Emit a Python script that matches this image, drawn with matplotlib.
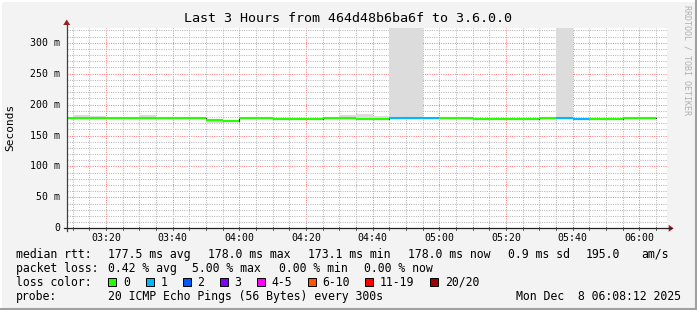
import matplotlib
matplotlib.use("Agg")
import matplotlib.pyplot as plt
from matplotlib.patches import Rectangle, Polygon

W, H, DPI = 697, 310, 100
MONO = "DejaVu Sans Mono"

title = "Last 3 Hours from 464d48b6ba6f to 3.6.0.0"
slot_start = "03:05"
slot_minutes = 5
view_start = "03:08:12"
view_hours = 3

median_ms = [178.0, 178.0, 178.0, 178.0, 178.0, 178.0, 178.0, 178.0, 178.0, 175.5,
             173.1, 178.0, 178.0, 176.5, 176.5, 176.5, 178.0, 178.0, 176.5, 176.5,
             178.0, 178.0, 178.0, 178.0, 178.0, 176.5, 176.5, 176.5, 176.5, 178.0,
             178.0, 176.5, 176.5, 176.5, 178.0, 178.0]
loss = [0] * 20 + [1, 1, 1] + [0] * 7 + [1, 1] + [0] * 4
smoke_lo = [177, 176, 176, 177, 177, 176, 177, 177, 177, 171,
            172, 177, 177, 175.5, 175.5, 175.5, 177, 176, 175.5, 175.5,
            177, 177, 177, 177, 177, 175.5, 175.5, 175.5, 175.5, 177,
            177, 175.5, 175.5, 175.5, 177, 177]
smoke_hi = [179, 183, 181, 179, 179, 183, 179, 179, 179, 176.5,
            174, 179, 179, 177.5, 177.5, 177.5, 179, 183, 185, 181,
            400, 400, 179, 179, 179, 177.5, 177.5, 177.5, 177.5, 179,
            400, 177.5, 177.5, 177.5, 179, 179]

y_ticks = [0, 50, 100, 150, 200, 250, 300]
y_labels = ["0", "50 m", "100 m", "150 m", "200 m", "250 m", "300 m"]
x_labels = ["03:20", "03:40", "04:00", "04:20", "04:40", "05:00", "05:20", "05:40", "06:00"]

loss_keys = ["0", "1", "2", "3", "4-5", "6-10", "11-19", "20/20"]
loss_colors = ["#26ff00", "#00b8ff", "#0059ff", "#7e00ff", "#ff00ff", "#ff5500", "#ff0000", "#a10000"]

row_median = [("median rtt:", 16), ("177.5 ms avg", 107.5), ("178.0 ms max", 207.5),
              ("173.1 ms min", 307.5), ("178.0 ms now", 407.5), ("0.9 ms sd", 507.5),
              ("195.0", 586), ("am/s", 641)]
row_loss = [("packet loss:", 16), ("0.42 % avg", 107.5), ("5.00 % max", 192.5),
            ("0.00 % min", 279.3), ("0.00 % now", 364.4)]
probe_text = "20 ICMP Echo Pings (56 Bytes) every 300s"
date_text = "Mon Dec  8 06:08:12 2025"


def minutes(s):
    parts = [int(p) for p in s.split(":")]
    while len(parts) < 3:
        parts.append(0)
    return parts[0] * 60 + parts[1] + parts[2] / 60.0


fig = plt.figure(figsize=(W / DPI, H / DPI), dpi=DPI)
fig.patch.set_facecolor("#f3f3f3")

# plot area in pixels
L, R, T, B = 66.7, 666.7, 28.3, 228.3
ax = fig.add_axes([L / W, 1 - B / H, (R - L) / W, (B - T) / H])
ax.set_facecolor("white")
x0 = minutes(view_start)
x1 = x0 + view_hours * 60
ax.set_xlim(x0, x1)
ax.set_ylim(0, 50 * (B - T) / 30.93)
for s in ax.spines.values():
    s.set_visible(False)
ax.set_xticks([])
ax.set_yticks([])

dot = (0, (1, 1.2))
# grid
t = minutes(slot_start)
while t <= x1:
    if t >= x0:
        is_major = (int(round(t)) % 20 == 0)
        ax.axvline(t, color="#ff8080" if is_major else "#b8b8b8", lw=0.75, ls=dot, zorder=0.5)
    t += slot_minutes
for v in range(10, 330, 10):
    is_major = v % 50 == 0
    ax.axhline(v, color="#ff8080" if is_major else "#b8b8b8", lw=0.75, ls=dot, zorder=0.5)

# smoke
starts = [minutes(slot_start) + i * slot_minutes for i in range(len(median_ms))]
ax.bar(starts, [h - l for h, l in zip(smoke_hi, smoke_lo)], bottom=smoke_lo,
       width=slot_minutes, align="edge", color="#dcdcdc", lw=0, zorder=1)

# dark step line beneath median
xs, ys = [], []
for s0, m in zip(starts, median_ms):
    xs += [s0, s0 + slot_minutes]
    ys += [m, m]
ax.plot(xs, ys, color="#202020", lw=0.8, zorder=2)
for s0, m, lo in zip(starts, median_ms, loss):
    ax.plot([s0, s0 + slot_minutes], [m, m], color=loss_colors[lo], lw=1.5,
            solid_capstyle="butt", zorder=3)

# overlay in pixel coordinates
ov = fig.add_axes([0, 0, 1, 1], zorder=5)
ov.set_xlim(0, W)
ov.set_ylim(H, 0)
ov.axis("off")
ov.patch.set_alpha(0)

# frame
ov.plot([0, W], [0.5, 0.5], color="white", lw=1.5)
ov.plot([0.5, 0.5], [0, H], color="white", lw=1.5)
ov.plot([0, W], [H - 1, H - 1], color="#a0a0a0", lw=1.5)
ov.plot([W - 1, W - 1], [0, H], color="#a0a0a0", lw=1.5)

# axes lines and arrows
ov.plot([L, L], [B + 3, 24], color="#404040", lw=0.9)
ov.plot([L - 3, R + 4], [B, B], color="#202020", lw=0.9)
ov.add_patch(Polygon([[L - 3.5, 25], [L + 3.5, 25], [L, 19.5]], closed=True, color="#a02020", lw=0))
ov.add_patch(Polygon([[R + 2, B - 3.5], [R + 2, B + 3.5], [R + 7, B]], closed=True, color="#a02020", lw=0))


def px_x(tm):
    return L + (tm - x0) / (x1 - x0) * (R - L)


t = minutes(slot_start)
while t <= x1:
    if t >= x0:
        ov.plot([px_x(t), px_x(t)], [B - 1.5, B + 1.5], color="#404040", lw=0.6)
    t += slot_minutes

# text
ov.text(348, 19, title, family=MONO, fontsize=9.6, ha="center", va="center", color="black")
for lbl in x_labels:
    ov.text(px_x(minutes(lbl)), 238, lbl, family=MONO, fontsize=7.1, ha="center", va="center")
for v, lbl in zip(y_ticks, y_labels):
    ov.text(60.5, B - v * 30.93 / 50, lbl, family=MONO, fontsize=7.1, ha="right", va="center")
ov.text(10, 127, "Seconds", family=MONO, fontsize=8, rotation=90, ha="center", va="center")
ov.text(687.5, 5, "RRDTOOL / TOBI OETIKER", family=MONO, fontsize=6.0, rotation=270,
        ha="center", va="top", color="#b0b0b0")

FS = 8.3
for txt, x in row_median:
    ov.text(x, 254.3, txt, family=MONO, fontsize=FS, ha="left", va="center")
for txt, x in row_loss:
    ov.text(x, 268.3, txt, family=MONO, fontsize=FS, ha="left", va="center")
ov.text(16, 282, "loss color:", family=MONO, fontsize=FS, ha="left", va="center")
box_x = [108.3, 145.7, 182.7, 219.7, 256.7, 307.6, 365.3, 430.2]
for bx, key, col in zip(box_x, loss_keys, loss_colors):
    ov.add_patch(Rectangle((bx, 277.8), 8, 8, facecolor=col, edgecolor="black", lw=0.7))
    ov.text(bx + 14.6, 282, key, family=MONO, fontsize=FS, ha="left", va="center")
ov.text(16, 296.3, "probe:", family=MONO, fontsize=FS, ha="left", va="center")
ov.text(107.5, 296.3, probe_text, family=MONO, fontsize=FS, ha="left", va="center")
ov.text(681, 296.3, date_text, family=MONO, fontsize=FS, ha="right", va="center")

fig.savefig("out.png", dpi=DPI, facecolor=fig.get_facecolor())
